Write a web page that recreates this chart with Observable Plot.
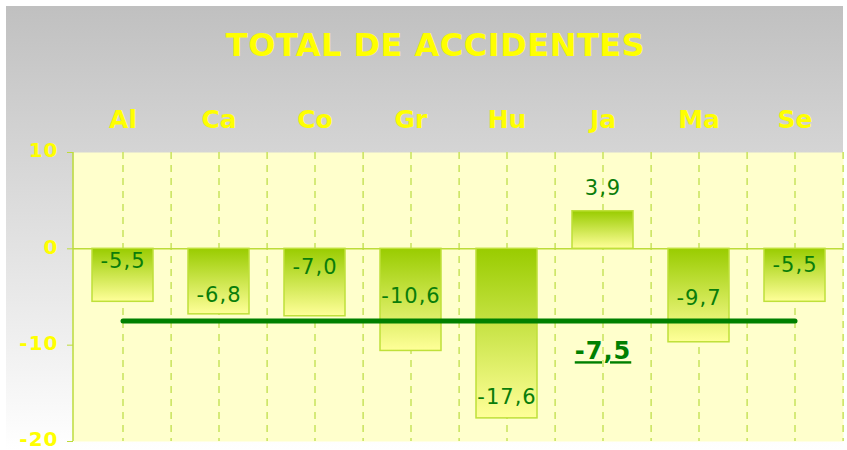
<!DOCTYPE html>
<html>
<head>
<meta charset="utf-8">
<script src="https://cdn.jsdelivr.net/npm/d3@7"></script>
<script src="https://cdn.jsdelivr.net/npm/@observablehq/plot@0.6"></script>
<style>
  html, body { margin: 0; padding: 0; background: #ffffff; }
  #chart { width: 847px; height: 450px; }
</style>
</head>
<body>
<div id="chart"></div>
<script>
const title = "TOTAL DE ACCIDENTES";
const categories = ["Al", "Ca", "Co", "Gr", "Hu", "Ja", "Ma", "Se"];
const values = [-5.5, -6.8, -7.0, -10.6, -17.6, 3.9, -9.7, -5.5];
const valueLabels = ["-5,5", "-6,8", "-7,0", "-10,6", "-17,6", "3,9", "-9,7", "-5,5"];
const labelAt = [-1.27, -4.8, -1.94, -4.95, -15.44, 6.26, -5.16, -1.68];
const average = -7.5;
const averageLabel = "-7,5";
const averageLabelAt = -10.66;
const averageLabelCategory = "Ja";
const yTicks = [10, 0, -10, -20];

const data = categories.map((c, i) => ({cat: c, value: values[i], label: valueLabels[i], at: labelAt[i]}));
const avgLine = [{cat: categories[0], y: average}, {cat: categories[categories.length - 1], y: average}];

const W = 847, H = 450;
const mL = 73, mR = 4, mT = 152, mB = 9;
const step = (W - mL - mR) / categories.length;

const axisLine = (index, scales, values, dims) => {
  const g = d3.create("svg:line")
    .attr("x1", dims.marginLeft).attr("x2", dims.marginLeft)
    .attr("y1", dims.marginTop).attr("y2", dims.height - dims.marginBottom)
    .attr("stroke", "#bddc3a").attr("stroke-width", 1.5);
  return g.node();
};

const chart = Plot.plot({
  width: W, height: H,
  marginLeft: mL, marginRight: mR, marginTop: mT, marginBottom: mB,
  style: {
    background: "linear-gradient(#c0c0c0, #ffffff) 6px 6px / 837px 444px no-repeat, #ffffff",
    fontFamily: "'DejaVu Sans', Verdana, sans-serif",
    overflow: "visible"
  },
  x: {domain: categories, paddingInner: 0.366, paddingOuter: 0.183, axis: null},
  y: {domain: [-20, 10], axis: null},
  marks: [
    Plot.frame({fill: "#ffffcc", stroke: null}),
    Plot.ruleX(categories, {x: d => d, stroke: "#c8e35c", strokeWidth: 1.5, strokeDasharray: "7,6"}),
    Plot.ruleX(categories, {x: d => d, dx: step / 2, stroke: "#c8e35c", strokeWidth: 1.5, strokeDasharray: "7,6"}),
    Plot.ruleY([0], {stroke: "#bddc3a", strokeWidth: 1.5}),
    axisLine,
    Plot.barY(data, {x: "cat", y1: 0, y2: "value", fill: "url(#barGrad)", stroke: "#bfe03a", strokeWidth: 1.5}),
    Plot.text(data, {x: "cat", y: "at", text: "label", fill: "#0a7d0a", fontSize: 21, lineAnchor: "middle", className: "vlabel"}),
    Plot.line(avgLine, {x: "cat", y: "y", stroke: "#008000", strokeWidth: 5, strokeLinecap: "round"}),
    Plot.text([averageLabel], {x: () => averageLabelCategory, y: () => averageLabelAt, text: d => d, fill: "#008000", fontSize: 24, fontWeight: "bold", lineAnchor: "middle", className: "avglabel"}),
    Plot.axisX({anchor: "top", tickSize: 0, tickPadding: 25, fill: "#ffff00", fontSize: 25, fontWeight: "bold", label: null}),
    Plot.axisY({ticks: yTicks, tickSize: 6, text: null, stroke: "#bddc3a", label: null}),
    Plot.axisY({ticks: yTicks, tickSize: 0, tickPadding: 15, dy: -1.5, fill: "#ffff00", fontSize: 20, fontWeight: "bold", tickFormat: d => String(d), label: null, className: "ylab"}),
    Plot.text([title], {frameAnchor: "top", dx: -23, dy: -107, text: d => d, fill: "#ffff00", fontSize: 32, fontWeight: "bold", lineAnchor: "middle", className: "ttl"})
  ]
});

const svg = d3.select(chart);
svg.insert("defs", ":first-child").html(
  '<linearGradient id="barGrad" x1="0" y1="0" x2="0" y2="1">' +
  '<stop offset="0" stop-color="#99cc00"/>' +
  '<stop offset="1" stop-color="#ffff99"/>' +
  '</linearGradient>'
);
svg.selectAll(".avglabel text").attr("text-decoration", "underline").attr("letter-spacing", "1px");
svg.selectAll(".vlabel text").attr("letter-spacing", "1px");
svg.selectAll(".ttl text").attr("letter-spacing", "0.5px");
svg.selectAll(".ylab text").attr("letter-spacing", "1px");
document.getElementById("chart").appendChild(chart);
</script>
</body>
</html>
